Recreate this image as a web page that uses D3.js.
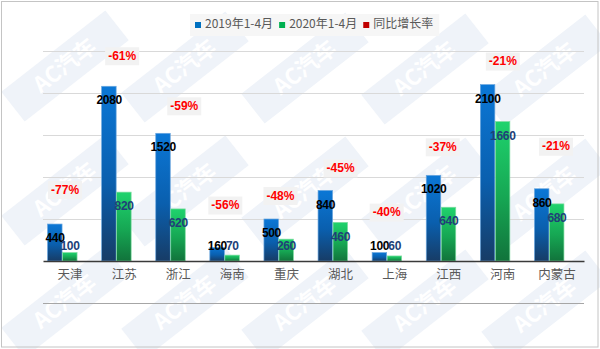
<!DOCTYPE html>
<html>
<head>
<meta charset="utf-8">
<script src="https://cdn.jsdelivr.net/npm/d3@7"></script>
<style>
  html, body { margin: 0; padding: 0; background: #fff; }
  svg { display: block; }
</style>
</head>
<body>
<svg id="chart" width="600" height="349"></svg>
<script>
// Provincial sales, Jan–Apr 2019 vs Jan–Apr 2020, with year-on-year change
const categories = ['天津', '江苏', '浙江', '海南', '重庆', '湖北', '上海', '江西', '河南', '内蒙古'];
const sales2019 = [440, 2080, 1520, 160, 500, 840, 100, 1020, 2100, 860];
const sales2020 = [100, 820, 620, 70, 260, 460, 60, 640, 1660, 680];
const growthRate = [-77, -61, -59, -56, -48, -45, -40, -37, -21, -21];
const seriesNames = ['2019年1-4月', '2020年1-4月', '同比增长率'];
const yTicks = [-500, 0, 500, 1000, 1500, 2000, 2500];

// Placement of the change callouts: [x shift from category centre, lift above the 2019 bar] in px
const rateLabelLayout = [[-5, 34], [-2, 30], [6, 27], [-7, 42], [-6, 23], [0, 22], [-8, 40], [-6, 28], [0, 23], [-1, 42]];

const W = 600, H = 349;
const plot = { left: 43, right: 584, top: 51, bottom: 303 };

const svg = d3.select('#chart');
const defs = svg.append('defs');

function vGrad(id, stops) {
  const g = defs.append('linearGradient').attr('id', id)
    .attr('x1', 0).attr('y1', 0).attr('x2', 0).attr('y2', 1);
  stops.forEach(([o, c]) => g.append('stop').attr('offset', o).attr('stop-color', c));
}
vGrad('gBlue', [[0, '#0b77d6'], [0.55, '#0a5fae'], [1, '#173c66']]);
vGrad('gGreen', [[0, '#1fd36d'], [0.55, '#16a653'], [1, '#11733b']]);

// Background
svg.append('rect').attr('x', 0).attr('y', 0).attr('width', W).attr('height', H).attr('fill', '#fff');

// Faint diagonal watermark tiles
const wm = svg.append('g').attr('class', 'watermark');
const wmCols = [65, 185, 305, 425, 545];
const wmRows = [66, 190, 302];
wmCols.forEach((cx, i) => {
  wmRows.forEach(cy => {
    const g = wm.append('g').attr('transform', `translate(${cx},${cy + i}) rotate(-38)`);
    g.append('rect').attr('x', -66).attr('y', -19).attr('width', 132).attr('height', 38)
      .attr('fill', '#eff3f9');
    g.append('text').attr('x', 0).attr('y', 1)
      .attr('text-anchor', 'middle').attr('dominant-baseline', 'middle')
      .attr('font-family', 'Noto Sans CJK SC, sans-serif').attr('font-weight', 700)
      .attr('font-size', 22).attr('fill', '#ffffff').text('AC汽车');
  });
});

// Scales
const x = d3.scaleBand().domain(categories).range([plot.left, plot.right]).paddingInner(0).paddingOuter(0);
const y = d3.scaleLinear().domain([-500, 2500]).range([plot.bottom, plot.top]);
const barW = x.bandwidth() * 15 / 54.1;
// three series slots per category (the change series sits in the third slot)
const slot = d3.scaleBand().domain([0, 1, 2]).range([0, barW * 3]);
const groupOffset = (x.bandwidth() - barW * 3) / 2;

// Gridlines from the value axis ticks
const grid = d3.axisLeft(y).tickValues(yTicks).tickSize(-(plot.right - plot.left)).tickFormat('');
const gg = svg.append('g').attr('transform', `translate(${plot.left},0)`).call(grid);
gg.select('.domain').remove();
gg.selectAll('.tick line')
  .attr('stroke', d => d === -500 ? '#a6a6a6' : '#d9d9d9')
  .attr('stroke-width', d => d === -500 ? 1.2 : 1)
  .attr('opacity', d => d === 0 ? 0 : 1);

// Bars
const bars = svg.append('g');
function drawSeries(values, idx, fill, stroke) {
  bars.selectAll(null).data(values).enter().append('rect')
    .attr('x', (d, i) => x(categories[i]) + groupOffset + slot(idx))
    .attr('y', d => y(d))
    .attr('width', slot.bandwidth() - 0.5)
    .attr('height', d => y(0) - y(d))
    .attr('fill', fill)
    .attr('stroke', stroke).attr('stroke-width', 0.7);
}
drawSeries(sales2019, 0, 'url(#gBlue)', '#6aa6de');
drawSeries(sales2020, 1, 'url(#gGreen)', '#7fdca0');

// Category axis at zero
const xAxis = d3.axisBottom(x).tickSize(0).tickPadding(9);
const xa = svg.append('g').attr('transform', `translate(0,${y(0)})`).call(xAxis);
xa.select('.domain').attr('stroke', '#3a3a3a').attr('stroke-width', 1.6);
xa.selectAll('.tick text')
  .attr('font-family', 'Noto Sans CJK SC, sans-serif').attr('font-size', 12.5)
  .attr('fill', '#595959');

// Value labels inside bar ends
const labelFont = 'Liberation Sans, Arial, sans-serif';
const labelY = v => Math.min(y(v) + 15, y(0) - 14);
function drawValueLabels(values, idx, color) {
  svg.append('g').selectAll(null).data(values).enter().append('text')
    .attr('x', (d, i) => x(categories[i]) + groupOffset + slot(idx) + slot.bandwidth() / 2)
    .attr('y', d => labelY(d))
    .attr('text-anchor', 'middle').attr('dominant-baseline', 'middle')
    .attr('font-family', labelFont).attr('font-weight', 700).attr('font-size', 12)
    .attr('letter-spacing', -0.3)
    .attr('fill', color).text(d => d);
}
drawValueLabels(sales2019, 0, '#000000');
drawValueLabels(sales2020, 1, '#203f78');

// Year-on-year change callouts
const rl = svg.append('g').selectAll(null).data(growthRate).enter().append('g')
  .attr('transform', (d, i) => {
    const cx = x(categories[i]) + x.bandwidth() / 2 + rateLabelLayout[i][0];
    const cy = y(sales2019[i]) - rateLabelLayout[i][1];
    return `translate(${cx},${cy})`;
  });
rl.append('rect').attr('x', -17).attr('y', -9).attr('width', 34).attr('height', 18).attr('fill', '#f2f2f2');
rl.append('text').attr('x', 0).attr('y', 0.5)
  .attr('text-anchor', 'middle').attr('dominant-baseline', 'middle')
  .attr('font-family', labelFont).attr('font-weight', 700).attr('font-size', 12)
  .attr('fill', '#ff0000').text(d => d + '%');

// Legend
const legendColors = ['#0070c0', '#00b050', '#c00000'];
const lg = svg.append('g');
const lgBg = lg.append('rect').attr('fill', '#f6f6f6');
let lx = 195;
const ly = 25;
seriesNames.forEach((name, i) => {
  lg.append('rect').attr('x', lx).attr('y', ly - 3).attr('width', 6).attr('height', 6).attr('fill', legendColors[i]);
  const t = lg.append('text').attr('x', lx + 10).attr('y', ly)
    .attr('dominant-baseline', 'middle')
    .attr('font-family', 'Noto Sans CJK SC, sans-serif').attr('font-size', 12)
    .attr('fill', '#595959').text(name);
  lx += 10 + t.node().getComputedTextLength() + 6;
});
lgBg.attr('x', 190).attr('y', 14).attr('width', lx - 190).attr('height', 22);

// Outer frame
svg.append('rect').attr('x', 1.5).attr('y', 1.5).attr('width', W - 3.5).attr('height', H - 3.5)
  .attr('fill', 'none').attr('stroke', '#c4c4c4').attr('stroke-width', 1);
</script>
</body>
</html>
